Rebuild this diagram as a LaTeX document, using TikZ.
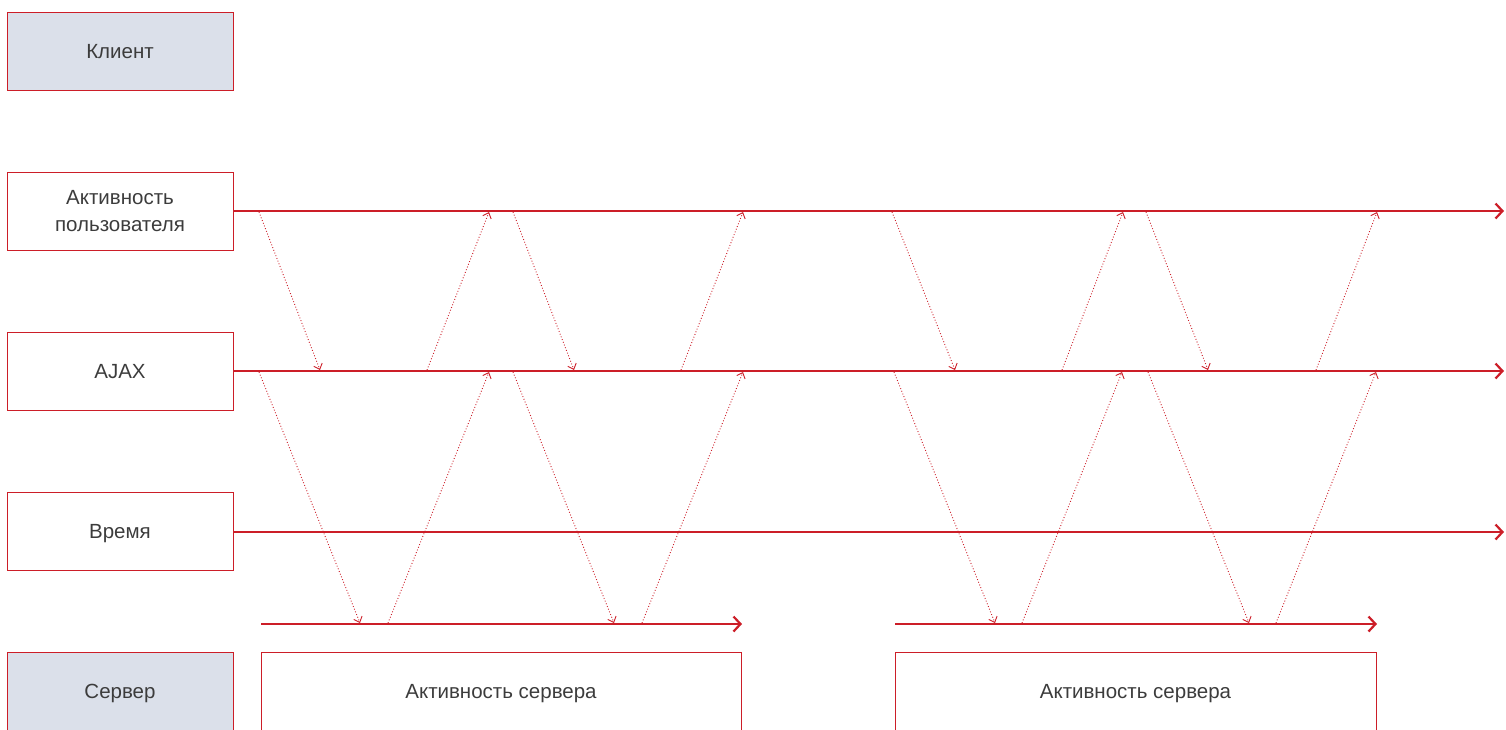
\documentclass[tikz,border=0pt]{standalone}
\usepackage{fontspec}
\setmainfont{Liberation Sans}
\usetikzlibrary{arrows.meta}
\definecolor{lred}{RGB}{204,30,40}
\definecolor{lfill}{RGB}{219,224,234}
\definecolor{ltext}{RGB}{60,60,60}
\begin{document}
\begin{tikzpicture}[x=1pt,y=-1pt,
 lbl/.style={draw=lred,line width=0.9pt,minimum width=226pt,minimum height=78pt,inner sep=0pt,
   font=\fontsize{20.5}{27}\selectfont,text=ltext,align=center},
 one/.style={text depth=0pt},
 hdr/.style={lbl,fill=lfill},
 act/.style={lbl,one,minimum width=480pt},
 track/.style={draw=lred,line width=2.4pt,-{Straight Barb[length=7pt,width=15pt,line width=2.2pt]}},
 msg/.style={draw=lred,line width=0.9pt,dotted,-{Straight Barb[length=5pt,width=9pt,line width=0.9pt]}}]
\useasboundingbox (0,0) rectangle (1506,729);
% left column
\node[hdr,one] (client) at (120,51) {Клиент};
\node[lbl] (user) at (120,211) {Активность\\пользователя};
\node[lbl,one] (ajax) at (120,371) {AJAX};
\node[lbl,one] (time) at (120,531) {Время};
\node[hdr,one] (server) at (120,691) {Сервер};
% server activity boxes
\node[act] (sa1) at (501,691) {Активность сервера};
\node[act,minimum width=481pt] (sa2) at (1135.5,691) {Активность сервера};
% track ends
\coordinate (userEnd) at (1504,211);
\coordinate (ajaxEnd) at (1504,371);
\coordinate (timeEnd) at (1504,532);
\coordinate (s1a) at (261,624);
\coordinate (s1b) at (742,624);
\coordinate (s2a) at (895,624);
\coordinate (s2b) at (1377,624);
\draw[track] (user.east) -- (userEnd);
\draw[track] (ajax.east) -- (ajaxEnd);
\draw[track] (time.east |- timeEnd) -- (timeEnd);
\draw[track] (s1a) -- (s1b);
\draw[track] (s2a) -- (s2b);
% message coordinates
\foreach \n/\ua/\ub/\aa/\ab/\sa/\sb/\va/\vb in {
  A/259/320/259/360/388/489/427/489,
  B/513/574/513/614/642/743/681/743,
  C/892/955/894/995/1022/1122/1062/1123,
  D/1146/1208/1148/1249/1276/1376/1316/1377}{
  \coordinate (ud\n0) at (\ua,212);
  \coordinate (ud\n1) at (\ub,370);
  \coordinate (as\n0) at (\aa,372);
  \coordinate (as\n1) at (\ab,623);
  \coordinate (sa\n0) at (\sa,623);
  \coordinate (sa\n1) at (\sb,372);
  \coordinate (au\n0) at (\va,370);
  \coordinate (au\n1) at (\vb,212);
}
\foreach \n in {A,B,C,D}{
  \draw[msg] (ud\n0) -- (ud\n1);
  \draw[msg] (as\n0) -- (as\n1);
  \draw[msg] (sa\n0) -- (sa\n1);
  \draw[msg] (au\n0) -- (au\n1);
}
\end{tikzpicture}
\end{document}
